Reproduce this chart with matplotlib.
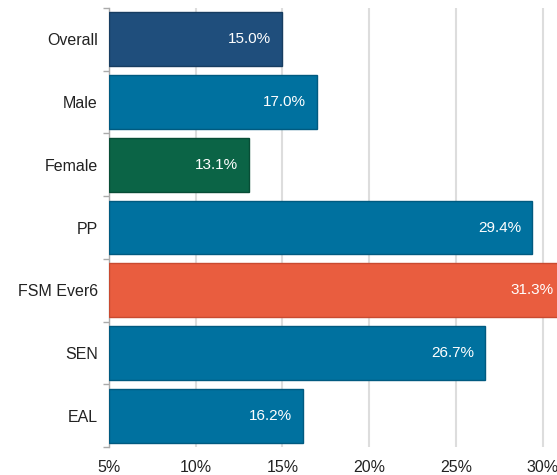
import numpy as np
import matplotlib
matplotlib.use("Agg")
import matplotlib.pyplot as plt

plt.rcParams['font.family'] = ['Liberation Sans', 'DejaVu Sans']

# data
groups = ["Overall", "Male", "Female", "PP", "FSM Ever6", "SEN", "EAL"]
values = [15.0, 17.0, 13.1, 29.4, 31.3, 26.7, 16.2]
colors = ["#1f4e7c", "#00719f", "#0b6446", "#00719f", "#e95d3f", "#00719f", "#00719f"]
edges = ["#173d61", "#005a80", "#084d36", "#005a80", "#c94a30", "#005a80", "#005a80"]
xticks = [5, 10, 15, 20, 25, 30]

fig = plt.figure(figsize=(5.57, 4.75), dpi=100)
ax = fig.add_axes([109 / 557, 28 / 475, 448 / 557, 439 / 475])

y = np.arange(len(groups))
base = 5
ax.barh(y, np.array(values) - base, left=base, height=0.86,
        color=colors, edgecolor=edges, linewidth=1, zorder=3)

for yi, v in zip(y, values):
    ax.annotate(f"{v:.1f}%", xy=(v, yi), xytext=(-8, 0), textcoords="offset points",
                ha="right", va="center", color="white", fontsize=11, zorder=4,
                annotation_clip=False)

ax.set_xlim(5, 5 + 448 / 17.34)
ax.set_ylim(len(groups) - 0.5, -0.5)

ax.set_xticks(xticks)
ax.set_xticklabels([f"{t}%" for t in xticks], fontsize=11.5, color="#222222")
ax.tick_params(axis="x", length=0, pad=9)
ax.grid(axis="x", color="#dddddd", linewidth=1.5, zorder=0)

ax.set_yticks(y)
ax.set_yticklabels(groups, fontsize=11.5, color="#222222")
ax.set_yticks(np.arange(-0.5, len(groups)), minor=True)
ax.tick_params(axis="y", which="major", length=0, pad=8)
ax.tick_params(axis="y", which="minor", length=4, color="#aaaaaa", width=1)

for s in ["top", "right", "bottom"]:
    ax.spines[s].set_visible(False)
ax.spines["left"].set_color("#aaaaaa")
ax.spines["left"].set_linewidth(1)

fig.savefig("out.png", dpi=100)
